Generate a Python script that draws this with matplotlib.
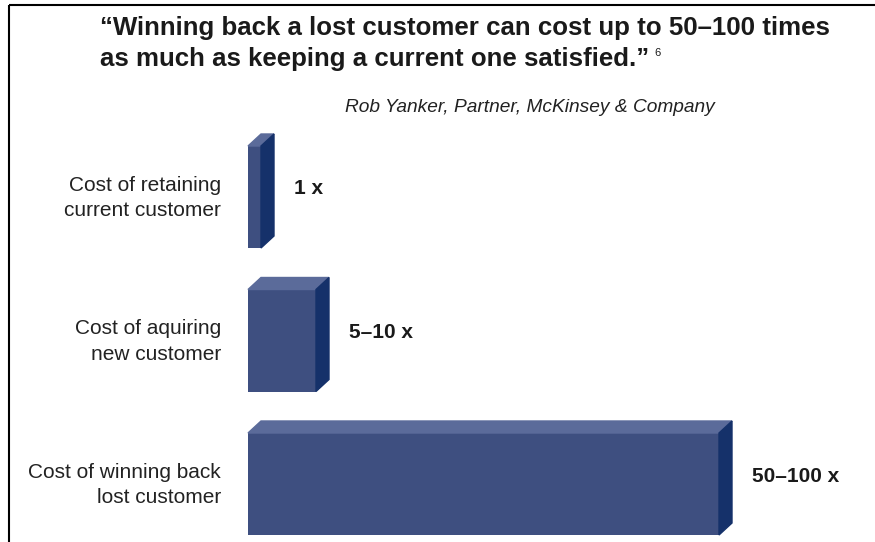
import matplotlib.pyplot as plt
from matplotlib.patches import Polygon

# data
categories = ['Cost of retaining\ncurrent customer',
              'Cost of aquiring\nnew customer',
              'Cost of winning back\nlost customer']
bar_len = [13, 68, 471]          # drawn length of the front face
value_labels = ['1 x', '5\u201310 x', '50\u2013100 x']

title_1 = '\u201cWinning back a lost customer can cost up to 50\u2013100 times'
title_2 = 'as much as keeping a current one satisfied.\u201d'
source = 'Rob Yanker, Partner, McKinsey & Company'

# colours
c_front = '#3e4f80'
c_top = '#5b6b9a'
c_side = '#15316a'

plt.rcParams['font.family'] = ['Liberation Sans', 'DejaVu Sans']

fig = plt.figure(figsize=(8.75, 5.42), dpi=100)
ax = fig.add_axes([0, 0, 1, 1])
ax.set_xlim(0, 875)
ax.set_ylim(542, 0)
ax.axis('off')

x0 = 248
y_pos = [197, 340.5, 484]
h = 102
dx, dy = 13, 12

ax.barh(y_pos, bar_len, left=x0, height=h, color=c_front, zorder=2)
for y, w, lab, val in zip(y_pos, bar_len, categories, value_labels):
    top, bot = y - h / 2, y + h / 2
    x1 = x0 + w
    ax.add_patch(Polygon([(x0, top), (x0 + dx, top - dy), (x1 + dx, top - dy), (x1, top)],
                         closed=True, color=c_top, zorder=2))
    ax.add_patch(Polygon([(x1, top), (x1 + dx, top - dy), (x1 + dx, bot - dy), (x1, bot)],
                         closed=True, color=c_side, zorder=2))
    ax.text(221, y + 1, lab, ha='right', va='center', fontsize=15,
            color='#222222', linespacing=1.42)
    ax.text(x1 + dx + 20, y - 8, val, ha='left', va='center', fontsize=15,
            fontweight='bold', color='#1a1a1a')

# quote and source
ax.text(100, 35, title_1, ha='left', va='baseline', fontsize=18.6,
        fontweight='bold', color='#1a1a1a')
ax.text(100, 66, title_2, ha='left', va='baseline', fontsize=18.6,
        fontweight='bold', color='#1a1a1a')
ax.text(654, 56, '6', ha='left', va='baseline', fontsize=8, color='#1a1a1a')
ax.text(715, 111.5, source, ha='right', va='baseline', fontsize=13.75,
        style='italic', color='#222222')

# frame lines
ax.plot([9, 875], [5, 5], color='black', lw=1.5, solid_capstyle='butt')
ax.plot([9, 9], [5, 542], color='black', lw=1.5, solid_capstyle='butt')

fig.savefig('out.png', dpi=100)
